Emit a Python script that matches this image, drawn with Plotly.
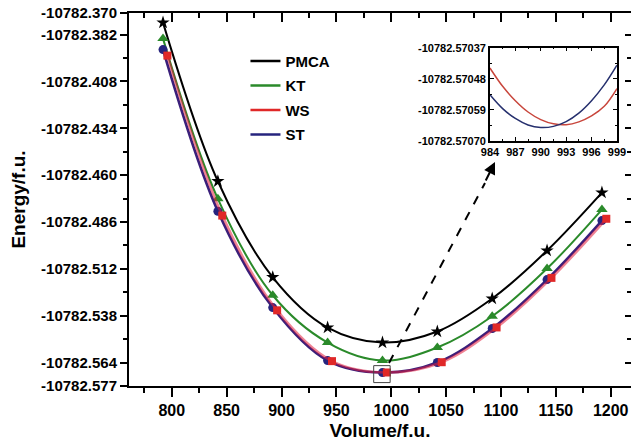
import plotly.graph_objects as go

# ---------------- data ----------------
volume = [792, 842, 892, 942, 992, 1042, 1092, 1142, 1192]
volume_ws = [796, 846, 896, 946, 996, 1046, 1096, 1146, 1196]
pmca = [-10782.37533, -10782.46339, -10782.51666, -10782.54456, -10782.55289,
        -10782.54678, -10782.52847, -10782.50184, -10782.46966]
kt = [-10782.38420, -10782.47315, -10782.52664, -10782.55289, -10782.56288,
      -10782.55566, -10782.53830, -10782.51183, -10782.47909]
ws = [-10782.39364, -10782.48242, -10782.53500, -10782.56320, -10782.56950,
      -10782.56380, -10782.54450, -10782.51700, -10782.48420]
st = [-10782.39031, -10782.48003, -10782.53347, -10782.56288, -10782.56954,
      -10782.56398, -10782.54512, -10782.51793, -10782.48519]

inset_v = [984, 985.5, 987, 988.5, 990, 991.5, 993, 994.5, 996, 997.5, 999]
inset_ws = [-10782.570442, -10782.570507, -10782.570558, -10782.570598, -10782.570625,
            -10782.570640, -10782.570643, -10782.570633, -10782.570612, -10782.570578,
            -10782.570515]
inset_st = [-10782.570537, -10782.570586, -10782.570621, -10782.570644, -10782.570653,
            -10782.570649, -10782.570632, -10782.570602, -10782.570558, -10782.570502,
            -10782.570432]

series_names = ["PMCA", "KT", "WS", "ST"]
y_ticks = [-10782.370, -10782.382, -10782.408, -10782.434, -10782.460, -10782.486,
           -10782.512, -10782.538, -10782.564, -10782.577]
y_minor = [-10782.395, -10782.421, -10782.447, -10782.473, -10782.499, -10782.525, -10782.551]
inset_y_ticks = [-10782.57037, -10782.57048, -10782.57059, -10782.57070]
inset_y_minor = [-10782.570425, -10782.570535, -10782.570645]

# ---------------- styling ----------------
FONT = "Arial, Liberation Sans, sans-serif"
colors = {"PMCA": "#000000", "KT": "#2a8a2a", "WS": "#e02828", "ST": "#26247e"}
line_colors = {"PMCA": "#000000", "KT": "#2a8a2a", "WS": "rgba(225,30,60,0.55)", "ST": "#3a1f7a"}
symbols = {"PMCA": "star", "KT": "triangle-up", "WS": "square", "ST": "circle"}
msize = {"PMCA": 10, "KT": 10, "WS": 8, "ST": 9}
lwidth = {"PMCA": 2, "KT": 2, "WS": 2.6, "ST": 2.6}
xdata = {"PMCA": volume, "KT": volume, "WS": volume_ws, "ST": volume}
ydata = {"PMCA": pmca, "KT": kt, "WS": ws, "ST": st}
draw_order = ["PMCA", "KT", "ST", "WS"]

fig = go.Figure()
for name in draw_order:
    fig.add_trace(go.Scatter(
        x=xdata[name], y=ydata[name], mode="lines+markers", showlegend=False,
        line=dict(color=line_colors[name], width=lwidth[name], shape="spline", smoothing=1.0),
        marker=dict(symbol=symbols[name], size=msize[name], color=colors[name],
                    line=dict(width=0)),
        cliponaxis=False,
    ))
# legend-only entries (line only)
for i, name in enumerate(series_names):
    fig.add_trace(go.Scatter(
        x=[None], y=[None], mode="lines", name=name, legendgroup=f"g{i}",
        line=dict(color=colors[name], width=2.5),
    ))

# dummy trace for mirrored top/right axes
fig.add_trace(go.Scatter(x=[None], y=[None], xaxis="x2", yaxis="y2", showlegend=False))

# inset traces
fig.add_trace(go.Scatter(x=inset_v, y=inset_ws, mode="lines", xaxis="x3", yaxis="y3",
                         showlegend=False, line=dict(color="#c8463c", width=1.5, shape="spline")))
fig.add_trace(go.Scatter(x=inset_v, y=inset_st, mode="lines", xaxis="x3", yaxis="y3",
                         showlegend=False, line=dict(color="#26306e", width=1.5, shape="spline")))

x_range = [761, 1218.5]
y_range = [y_ticks[-1], y_ticks[0]]
tickfont = dict(family=FONT, size=15, color="black", weight="bold")

axis_common = dict(showgrid=False, zeroline=False, linecolor="black", linewidth=2,
                   tickcolor="black", tickwidth=2, automargin=False)

fig.update_layout(
    width=632, height=441,
    margin=dict(l=129, r=1, t=13, b=55, autoexpand=False),
    paper_bgcolor="white", plot_bgcolor="white",
    font=dict(family=FONT, color="black"),
    xaxis=dict(range=x_range, domain=[0, 1], anchor="y", showline=True,
               ticks="outside", ticklen=9, dtick=50, tick0=0,
               minor=dict(ticks="outside", ticklen=5, dtick=25, tick0=0, tickcolor="black", tickwidth=2),
               tickfont=dict(family=FONT, size=16, color="black", weight="bold"),
               title=dict(text="Volume/f.u.", standoff=6,
                          font=dict(family=FONT, size=19, color="black", weight="bold")),
               **axis_common),
    yaxis=dict(range=y_range, domain=[0, 1], anchor="x", showline=True,
               ticks="outside", ticklen=7, tickmode="array", tickvals=y_ticks,
               ticktext=[f"{v:.3f}" for v in y_ticks],
               minor=dict(ticks="outside", ticklen=4, tickmode="array", tickvals=y_minor,
                          tickcolor="black", tickwidth=2),
               tickfont=tickfont,
               title=dict(text="Energy/f.u.", standoff=10,
                          font=dict(family=FONT, size=19, color="black", weight="bold")),
               **axis_common),
    xaxis2=dict(range=x_range, overlaying="x", side="top", anchor="y2", showline=True,
                ticks="inside", ticklen=9, dtick=50, tick0=0, showticklabels=False,
                minor=dict(ticks="inside", ticklen=5, dtick=25, tick0=0, tickcolor="black", tickwidth=2),
                **axis_common),
    yaxis2=dict(range=y_range, overlaying="y", side="right", anchor="x2", showline=False,
                ticks="inside", ticklen=6, tickmode="array", tickvals=y_ticks,
                showticklabels=False,
                minor=dict(ticks="inside", ticklen=4, tickmode="array", tickvals=y_minor,
                           tickcolor="black", tickwidth=2),
                **axis_common),
    xaxis3=dict(range=[984, 999], domain=[0.719, 0.972], anchor="y3", showline=True,
                mirror="ticks", ticks="inside", ticklen=4, dtick=3, tick0=984,
                minor=dict(ticks="inside", ticklen=2, dtick=1.5, tick0=984, tickcolor="black", tickwidth=1),
                tickfont=dict(family=FONT, size=11, color="black", weight="bold"),
                showgrid=False, zeroline=False, linecolor="black", linewidth=1.5,
                tickcolor="black", tickwidth=1, automargin=False),
    yaxis3=dict(range=[inset_y_ticks[-1], inset_y_ticks[0]], domain=[0.6575, 0.907],
                anchor="x3", showline=True, mirror="ticks", ticks="inside", ticklen=4,
                tickmode="array", tickvals=inset_y_ticks,
                ticktext=[f"{v:.5f}" for v in inset_y_ticks],
                minor=dict(ticks="inside", ticklen=2, tickmode="array", tickvals=inset_y_minor,
                           tickcolor="black", tickwidth=1),
                tickfont=dict(family=FONT, size=11, color="black", weight="bold"),
                showgrid=False, zeroline=False, linecolor="black", linewidth=1.5,
                tickcolor="black", tickwidth=1, automargin=False),
    legend=dict(x=0.232, y=0.915, xanchor="left", yanchor="top",
                bgcolor="rgba(0,0,0,0)", tracegroupgap=2,
                font=dict(family=FONT, size=15, color="black", weight="bold")),
    showlegend=True,
)

# zoom box around the minimum (matches inset x-range)
fig.add_shape(type="rect", xref="x", yref="y", x0=984, x1=999,
              y0=-10782.5751, y1=-10782.5657, line=dict(color="#444444", width=1))

# dashed pointer from box to inset
fig.add_shape(type="line", xref="paper", yref="paper",
              x0=(389 - 129) / 502, y0=(386 - 363) / 373,
              x1=(485 - 129) / 502, y1=(386 - 183) / 373,
              line=dict(color="black", width=2, dash="dash"))
fig.add_annotation(xref="paper", yref="paper", x=(495 - 129) / 502, y=(386 - 162) / 373,
                   ax=-10, ay=20, showarrow=True, arrowhead=2, arrowsize=1.2, arrowwidth=2,
                   arrowcolor="black", text="")

fig.write_html("out.html")
